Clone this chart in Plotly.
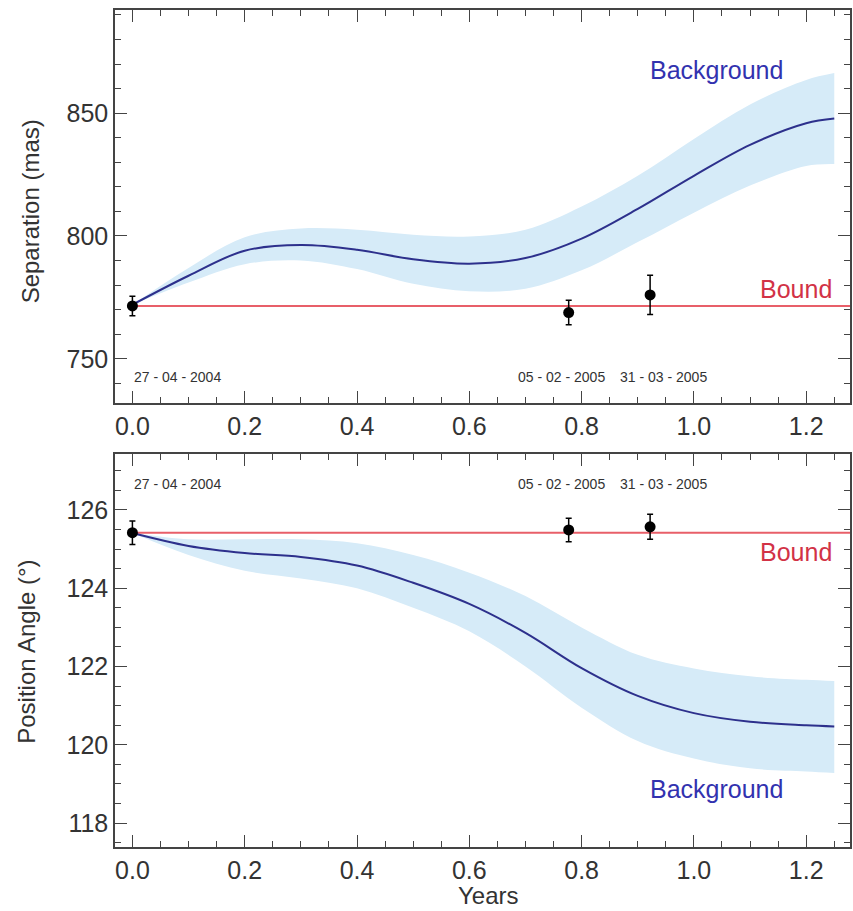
import plotly.graph_objects as go

# ---------------- data ----------------
t_model = [0.0, 0.1, 0.2, 0.3, 0.4, 0.5, 0.6, 0.7, 0.8, 0.9, 1.0, 1.1, 1.2, 1.25]

sep_bg = [772, 783.8, 794.0, 796.3, 794.4, 790.5, 788.7, 791.0, 798.9, 811.0, 824.5, 837.1, 845.9, 847.8]
sep_bg_hi = [772, 787.0, 799.5, 803.0, 802.5, 800.5, 799.8, 802.5, 812.0, 824.5, 839.5, 853.5, 863.5, 866.3]
sep_bg_lo = [772, 781.0, 788.5, 790.0, 786.5, 780.5, 777.5, 778.5, 786.0, 797.5, 809.5, 820.5, 828.5, 829.3]

pa_bg = [125.41, 125.08, 124.90, 124.80, 124.58, 124.14, 123.60, 122.86, 121.96, 121.25, 120.81, 120.59, 120.50, 120.47]
pa_bg_hi = [125.41, 125.25, 125.25, 125.25, 125.15, 124.85, 124.40, 123.80, 123.00, 122.30, 121.95, 121.75, 121.66, 121.63]
pa_bg_lo = [125.41, 124.85, 124.45, 124.25, 124.00, 123.50, 122.90, 122.00, 120.95, 120.10, 119.65, 119.40, 119.32, 119.28]

bound_t = [0.0, 1.278]
sep_bound = 771.5
pa_bound = 125.42

obs_t = [0.0, 0.777, 0.922]
obs_sep = [771.5, 768.8, 776.0]
obs_sep_err = [4.0, 5.0, 8.0]
obs_pa = [125.42, 125.49, 125.57]
obs_pa_err = [0.30, 0.30, 0.32]

date_labels = ["27 - 04 - 2004", "05 - 02 - 2005", "31 - 03 - 2005"]
date_label_t = [0.0, 0.764, 0.946]

x_ticks = [0.0, 0.2, 0.4, 0.6, 0.8, 1.0, 1.2]
sep_ticks = [750, 800, 850]
pa_ticks = [118, 120, 122, 124, 126]

# ---------------- styles ----------------
BAND = "rgb(214,235,248)"
BGLINE = "rgb(45,48,140)"
BOUNDLINE = "rgb(232,95,105)"
FRAME = "#444444"
FONT = "Liberation Sans, Arial, sans-serif"
TXT = "#333333"

fig = go.Figure()

def add_panel(xa, ya, bg, hi, lo, bound, oy, oe):
    fig.add_trace(go.Scatter(x=t_model, y=hi, mode="lines", line=dict(width=0, shape="spline"),
                             xaxis=xa, yaxis=ya, showlegend=False, hoverinfo="skip"))
    fig.add_trace(go.Scatter(x=t_model, y=lo, mode="lines", line=dict(width=0, shape="spline"),
                             fill="tonexty", fillcolor=BAND,
                             xaxis=xa, yaxis=ya, showlegend=False, hoverinfo="skip"))
    fig.add_trace(go.Scatter(x=bound_t, y=[bound, bound], mode="lines",
                             line=dict(color=BOUNDLINE, width=2),
                             xaxis=xa, yaxis=ya, showlegend=False))
    fig.add_trace(go.Scatter(x=t_model, y=bg, mode="lines",
                             line=dict(color=BGLINE, width=2, shape="spline"),
                             xaxis=xa, yaxis=ya, showlegend=False))
    fig.add_trace(go.Scatter(x=obs_t, y=oy, mode="markers",
                             marker=dict(color="black", size=11),
                             error_y=dict(type="data", array=oe, color="black", thickness=1.5, width=3),
                             xaxis=xa, yaxis=ya, showlegend=False))

add_panel("x", "y", sep_bg, sep_bg_hi, sep_bg_lo, sep_bound, obs_sep, obs_sep_err)
add_panel("x2", "y2", pa_bg, pa_bg_hi, pa_bg_lo, pa_bound, obs_pa, obs_pa_err)

axis_common = dict(
    showline=True, linecolor=FRAME, linewidth=1.5, mirror="ticks",
    ticks="inside", ticklen=12, tickwidth=1.3, tickcolor=FRAME,
    showgrid=False, zeroline=False,
    tickfont=dict(family=FONT, size=25, color=TXT),
)

xrange = [-0.031, 1.278]
fig.update_layout(
    width=853, height=911,
    margin=dict(l=115, r=1, t=10, b=64),
    paper_bgcolor="white", plot_bgcolor="white",
    xaxis=dict(axis_common, range=xrange, tickvals=x_ticks, tickformat=".1f",
               minor=dict(dtick=0.05, tick0=0, ticks="inside", ticklen=6, tickcolor=FRAME),
               anchor="y", domain=[0, 1]),
    yaxis=dict(axis_common, range=[732, 892], tickvals=sep_ticks,
               minor=dict(dtick=10, tick0=0, ticks="inside", ticklen=6, tickcolor=FRAME),
               anchor="x", domain=[0.5305, 1.0]),
    xaxis2=dict(axis_common, range=xrange, tickvals=x_ticks, tickformat=".1f",
                minor=dict(dtick=0.05, tick0=0, ticks="inside", ticklen=6, tickcolor=FRAME),
                anchor="y2", domain=[0, 1]),
    yaxis2=dict(axis_common, range=[117.39, 127.43], tickvals=pa_ticks,
                minor=dict(dtick=0.5, tick0=0, ticks="inside", ticklen=6, tickcolor=FRAME),
                anchor="x2", domain=[0.0, 0.4695]),
)

ann = []
def A(**kw):
    d = dict(showarrow=False, xanchor="center", yanchor="middle")
    d.update(kw)
    ann.append(d)

# axis titles
A(text="Separation (mas)", x=-0.115, y=0.76, xref="paper", yref="paper", textangle=-90,
  font=dict(family=FONT, size=24, color=TXT))
A(text="Position Angle (°)", x=-0.12, y=0.233, xref="paper", yref="paper", textangle=-90,
  font=dict(family=FONT, size=24, color=TXT))
A(text="Years", x=0.508, y=-0.058, xref="paper", yref="paper",
  font=dict(family=FONT, size=24, color=TXT))
# curve labels
A(text="Background", x=1.04, y=867.5, xref="x", yref="y",
  font=dict(family=FONT, size=25, color="rgb(50,50,175)"))
A(text="Bound", x=1.182, y=778.5, xref="x", yref="y",
  font=dict(family=FONT, size=25, color="rgb(210,50,70)"))
A(text="Bound", x=1.182, y=124.93, xref="x2", yref="y2",
  font=dict(family=FONT, size=25, color="rgb(210,50,70)"))
A(text="Background", x=1.04, y=118.88, xref="x2", yref="y2",
  font=dict(family=FONT, size=25, color="rgb(50,50,175)"))
# dates
for i, (lab, tx) in enumerate(zip(date_labels, date_label_t)):
    xa = "left" if i == 0 else "center"
    A(text=lab, x=tx, y=742.7, xref="x", yref="y", xanchor=xa,
      font=dict(family=FONT, size=14, color=TXT))
    A(text=lab, x=tx, y=126.66, xref="x2", yref="y2", xanchor=xa,
      font=dict(family=FONT, size=14, color=TXT))
fig.update_layout(annotations=ann)

fig.write_html("out.html", config={"displayModeBar": False},
               post_script="document.body.style.margin='0';document.body.style.overflow='hidden';")
